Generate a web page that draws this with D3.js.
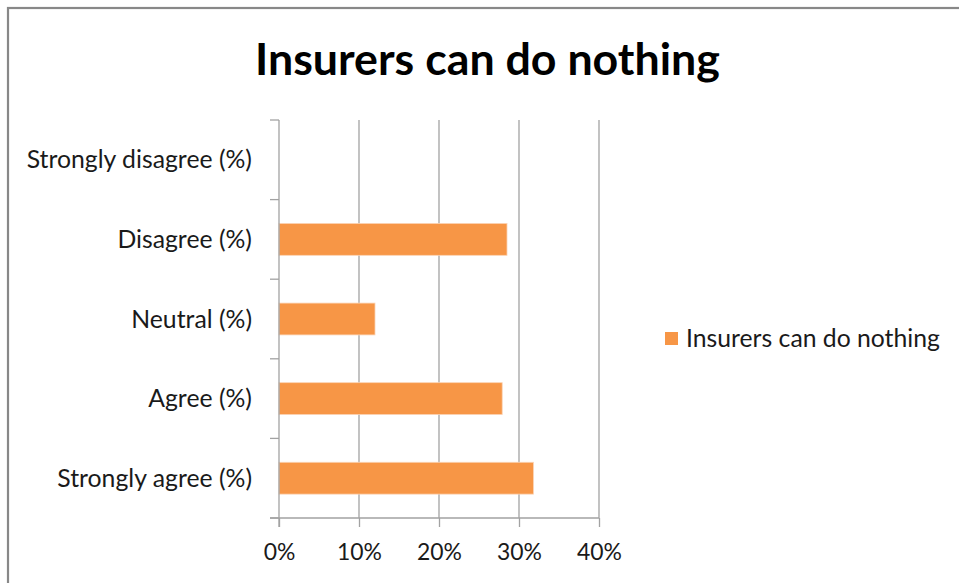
<!DOCTYPE html>
<html>
<head>
<meta charset="utf-8">
<script src="https://cdn.jsdelivr.net/npm/d3@7"></script>
<style>
  html, body { margin: 0; padding: 0; background: #fff; }
  svg { display: block; }
</style>
</head>
<body>
<svg id="chart" width="959" height="583"></svg>
<script>
// Survey responses: share who agree that "Insurers can do nothing"
const chartTitle = "Insurers can do nothing";
const seriesName = "Insurers can do nothing";
const categories = [
  "Strongly disagree (%)",
  "Disagree (%)",
  "Neutral (%)",
  "Agree (%)",
  "Strongly agree (%)"
];
const values = [0, 0.285, 0.12, 0.279, 0.318];
const tickValues = [0, 0.1, 0.2, 0.3, 0.4];
const tickLabels = ["0%", "10%", "20%", "30%", "40%"];

const FONT = "Lato, 'Open Sans', sans-serif";
const BAR = "#F79646";
const GRID = "#a2a2a2";

const svg = d3.select("#chart");

// fit a font size so that a string spans a given width
const ctx = document.createElement("canvas").getContext("2d");
function fitSize(text, weight, width) {
  ctx.font = `${weight} 100px ${FONT}`;
  return 100 * width / ctx.measureText(text).width;
}

// outer frame
svg.append("rect")
  .attr("x", 8).attr("y", 8)
  .attr("width", 980).attr("height", 600)
  .attr("fill", "#fff")
  .attr("stroke", "#888").attr("stroke-width", 2.2);

const plot = { left: 279, right: 599, top: 120, bottom: 518 };

const x = d3.scaleLinear().domain([0, 0.4]).range([plot.left, plot.right]);
const y = d3.scaleBand().domain(categories)
  .range([plot.top, plot.bottom])
  .paddingInner(0.6).paddingOuter(0.3);

// vertical gridlines
svg.append("g").selectAll("line")
  .data(tickValues.slice(1))
  .join("line")
  .attr("x1", d => x(d)).attr("x2", d => x(d))
  .attr("y1", plot.top).attr("y2", plot.bottom)
  .attr("stroke", GRID).attr("stroke-width", 1.3);

// bars
svg.append("g").selectAll("rect")
  .data(categories.map((c, i) => ({ c, v: values[i] })))
  .join("rect")
  .attr("x", x(0))
  .attr("y", d => y(d.c))
  .attr("width", d => x(d.v) - x(0))
  .attr("height", y.bandwidth())
  .attr("fill", BAR)
  .attr("stroke", "#fbd3b4").attr("stroke-width", d => d.v > 0 ? 0.8 : 0);

// bottom axis
const xAxis = d3.axisBottom(x)
  .tickValues(tickValues)
  .tickFormat((d, i) => tickLabels[i])
  .tickSizeInner(9).tickSizeOuter(0).tickPadding(17);
const gx = svg.append("g")
  .attr("transform", `translate(0,${plot.bottom})`)
  .call(xAxis);
gx.select(".domain").remove();
gx.append("line")
  .attr("x1", plot.left - 9).attr("x2", plot.right)
  .attr("stroke", GRID).attr("stroke-width", 1.3);
gx.selectAll(".tick line").attr("stroke", GRID).attr("stroke-width", 1.3);
const tickFs = fitSize("40%", 400, 45);
gx.selectAll(".tick text")
  .attr("fill", "#1a1a1a")
  .style("font-family", FONT)
  .style("font-size", tickFs + "px");

// left axis: line plus ticks at category boundaries
const boundaries = d3.range(categories.length + 1).map(i => plot.top + i * y.step());
const gy = svg.append("g");
gy.append("line")
  .attr("x1", plot.left).attr("x2", plot.left)
  .attr("y1", plot.top).attr("y2", plot.bottom + 9)
  .attr("stroke", GRID).attr("stroke-width", 1.3);
gy.selectAll("line.tk")
  .data(boundaries)
  .join("line").attr("class", "tk")
  .attr("x1", plot.left - 9).attr("x2", plot.left)
  .attr("y1", d => d).attr("y2", d => d)
  .attr("stroke", GRID).attr("stroke-width", 1.3);

const catFs = fitSize("Strongly disagree (%)", 400, 226);
gy.selectAll("text")
  .data(categories)
  .join("text")
  .attr("x", 252)
  .attr("y", d => y(d) + y.bandwidth() / 2)
  .attr("dy", "0.35em")
  .attr("text-anchor", "end")
  .attr("fill", "#1a1a1a")
  .style("font-family", FONT)
  .style("font-size", catFs + "px")
  .text(d => d);

// title
const titleFs = fitSize(chartTitle, 700, 465);
svg.append("text")
  .attr("x", 487.5).attr("y", 75)
  .attr("text-anchor", "middle")
  .attr("fill", "#000")
  .style("font-family", FONT)
  .style("font-weight", 700)
  .style("font-size", titleFs + "px")
  .text(chartTitle);

// legend
const legend = svg.append("g").attr("transform", "translate(665,332)");
legend.append("rect")
  .attr("width", 13).attr("height", 13)
  .attr("fill", BAR);
const legFs = fitSize(seriesName, 400, 254);
legend.append("text")
  .attr("x", 21).attr("y", 6.5)
  .attr("dy", "0.35em")
  .attr("fill", "#1a1a1a")
  .style("font-family", FONT)
  .style("font-size", legFs + "px")
  .text(seriesName);
</script>
</body>
</html>
